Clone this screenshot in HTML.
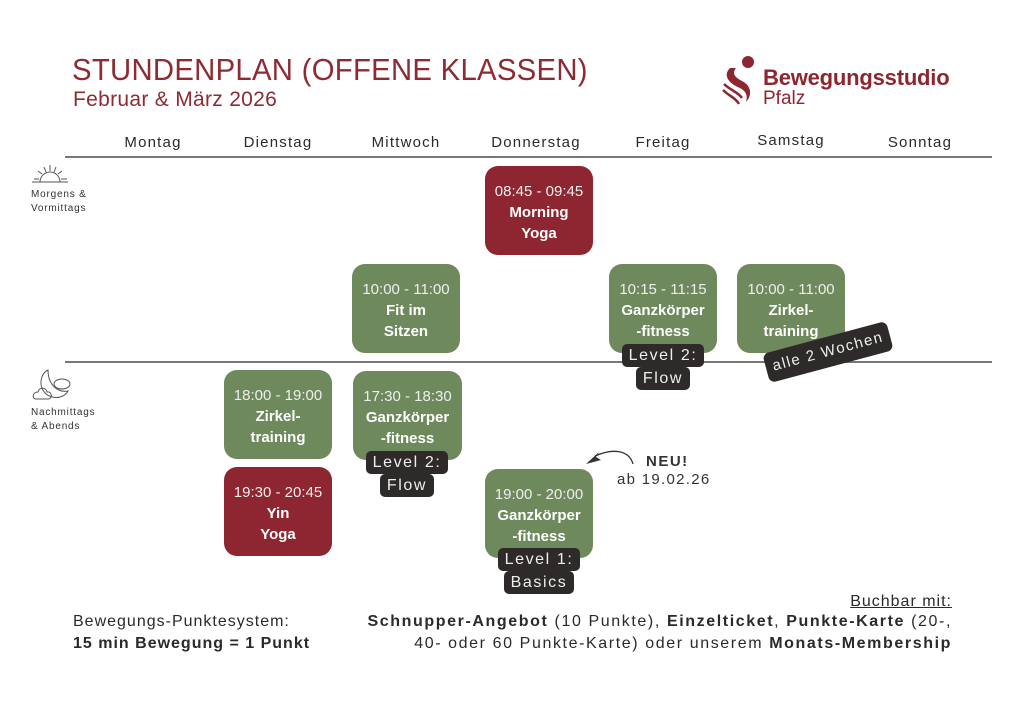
<!DOCTYPE html>
<html><head><meta charset="utf-8"><style>
*{margin:0;padding:0;box-sizing:border-box}
body{width:1024px;height:724px;background:#fff;position:relative;overflow:hidden;font-family:"Liberation Sans",sans-serif;color:#2a2a2a}
.a{position:absolute}
.title{left:72px;top:52px;font-size:31px;color:#8d2a33;letter-spacing:0.3px;transform:scaleX(0.945);transform-origin:left}
.sub{left:73px;top:88px;font-size:21px;color:#8d2a33;letter-spacing:0.3px}
.day{top:134px;font-size:15px;letter-spacing:1.2px;width:120px;margin-left:-60px;text-align:center;color:#2a2a2a}
.line{left:65px;width:927px;height:1.5px;background:#777}
.box{width:108px;height:89px;border-radius:13px;color:#fff;text-align:center;padding-top:15px;font-size:15px;line-height:21px}
.box .t{font-size:15px;color:#eee}
.box b{font-weight:bold;display:block}
.g{background:#6e8a5d}.r{background:#8d2630}
.tag{text-align:center;color:#eee;font-size:16px;letter-spacing:1.6px;line-height:23px}
.tag span{display:inline-block;background:#2e2a2a;padding:0 7px;border-radius:5px}
.side{font-size:10px;letter-spacing:0.8px;line-height:14px;color:#333}
.bt{font-size:16px;letter-spacing:1px;line-height:22px}
</style></head><body>
<div class="a title">STUNDENPLAN (OFFENE KLASSEN)</div>
<div class="a sub">Februar &amp; März 2026</div>

<svg class="a" style="left:720px;top:54px" width="40" height="54" viewBox="0 0 40 54">
<circle cx="28" cy="8" r="6" fill="#8d2630"/>
<path d="M10 14 C2 22 10 30 20 34 C26 37 28 42 26 48 C32 42 32 32 22 27 C14 23 12 19 16 14 Z" fill="#8d2630"/>
<path d="M4 30 C10 36 18 38 22 44 M3 36 C9 42 16 44 19 50" stroke="#8d2630" stroke-width="2.5" fill="none"/>
</svg>
<div class="a" style="left:763px;top:65px;font-size:22px;font-weight:bold;color:#8d2630;letter-spacing:-0.2px">Bewegungsstudio</div>
<div class="a" style="left:763px;top:88px;font-size:19px;color:#8d2630">Pfalz</div>

<div class="a day" style="left:153px">Montag</div>
<div class="a day" style="left:278px">Dienstag</div>
<div class="a day" style="left:406px">Mittwoch</div>
<div class="a day" style="left:536px">Donnerstag</div>
<div class="a day" style="left:663px">Freitag</div>
<div class="a day" style="left:791px;top:132px">Samstag</div>
<div class="a day" style="left:920px">Sonntag</div>
<div class="a line" style="top:156px"></div>
<div class="a line" style="top:361px"></div>

<svg class="a" style="left:30px;top:163px" width="40" height="22" viewBox="0 0 40 22">
<g stroke="#555" stroke-width="1" fill="none">
<path d="M10 19 A10 10 0 0 1 30 19"/><line x1="2" y1="19" x2="38" y2="19"/><line x1="4" y1="16" x2="9" y2="16"/><line x1="31" y1="16" x2="37" y2="16"/>
<line x1="20" y1="2" x2="20" y2="8"/><line x1="14" y1="4" x2="16" y2="9"/><line x1="26" y1="4" x2="24" y2="9"/><line x1="8" y1="8" x2="12" y2="11"/><line x1="32" y1="8" x2="28" y2="11"/></g></svg>
<div class="a side" style="left:31px;top:188px">Morgens &amp;<br>Vormittags</div>
<svg class="a" style="left:32px;top:367px" width="42" height="36" viewBox="0 0 42 36">
<g stroke="#555" stroke-width="1" fill="none">
<path d="M16 3 C6 8 6 26 20 30 C28 32 34 28 36 24 C26 26 16 18 16 3 Z"/>
<ellipse cx="30" cy="17" rx="8" ry="5"/>
<path d="M4 32 C0 32 0 25 6 25 C7 20 14 20 15 25 C20 24 21 32 16 32 Z"/></g></svg>
<div class="a side" style="left:31px;top:406px">Nachmittags<br>&amp; Abends</div>

<div class="a box r" style="left:485px;top:166px"><div class="t">08:45 - 09:45</div><b>Morning</b><b>Yoga</b></div>
<div class="a box g" style="left:352px;top:264px"><div class="t">10:00 - 11:00</div><b>Fit im</b><b>Sitzen</b></div>
<div class="a box g" style="left:609px;top:264px"><div class="t">10:15 - 11:15</div><b>Ganzkörper</b><b>-fitness</b></div>
<div class="a box g" style="left:737px;top:264px"><div class="t">10:00 - 11:00</div><b>Zirkel-</b><b>training</b></div>
<div class="a box g" style="left:224px;top:370px"><div class="t">18:00 - 19:00</div><b>Zirkel-</b><b>training</b></div>
<div class="a box r" style="left:224px;top:467px"><div class="t">19:30 - 20:45</div><b>Yin</b><b>Yoga</b></div>
<div class="a box g" style="left:353px;top:371px;width:109px"><div class="t">17:30 - 18:30</div><b>Ganzkörper</b><b>-fitness</b></div>
<div class="a box g" style="left:485px;top:469px"><div class="t">19:00 - 20:00</div><b>Ganzkörper</b><b>-fitness</b></div>

<div class="a tag" style="left:603px;top:344px;width:120px"><span>Level 2:</span><br><span>Flow</span></div>
<div class="a tag" style="left:347px;top:451px;width:120px"><span>Level 2:</span><br><span>Flow</span></div>
<div class="a tag" style="left:479px;top:548px;width:120px"><span>Level 1:</span><br><span>Basics</span></div>
<div class="a" style="left:764px;top:337px;width:128px;height:30px;background:#2e2a2a;border-radius:6px;transform:rotate(-15deg);color:#eee;font-size:15px;letter-spacing:1.5px;text-align:center;line-height:30px">alle 2 Wochen</div>

<svg class="a" style="left:583px;top:446px" width="52" height="22" viewBox="0 0 52 22">
<path d="M50 18 C46 4 30 2 12 10" stroke="#333" stroke-width="1.3" fill="none"/>
<path d="M3 18 L16 6 L13 11 L18 14 Z" fill="#333"/></svg>
<div class="a" style="left:646px;top:453px;font-size:15px;font-weight:bold;letter-spacing:1.5px;color:#333">NEU!</div>
<div class="a" style="left:617px;top:471px;font-size:15px;letter-spacing:1.3px;color:#333">ab 19.02.26</div>

<div class="a bt" style="left:800px;top:591px;text-decoration:underline;width:152px;text-align:right">Buchbar mit:</div>
<div class="a bt" style="left:73px;top:611px">Bewegungs-Punktesystem:<br><b>15 min Bewegung = 1 Punkt</b></div>
<div class="a bt" style="left:330px;top:611px;width:622px;text-align:right;white-space:nowrap;letter-spacing:1.6px"><b>Schnupper-Angebot</b> (10 Punkte), <b>Einzelticket</b>, <b>Punkte-Karte</b> (20-,<br>40- oder 60 Punkte-Karte) oder unserem <b>Monats-Membership</b></div>
</body></html>
